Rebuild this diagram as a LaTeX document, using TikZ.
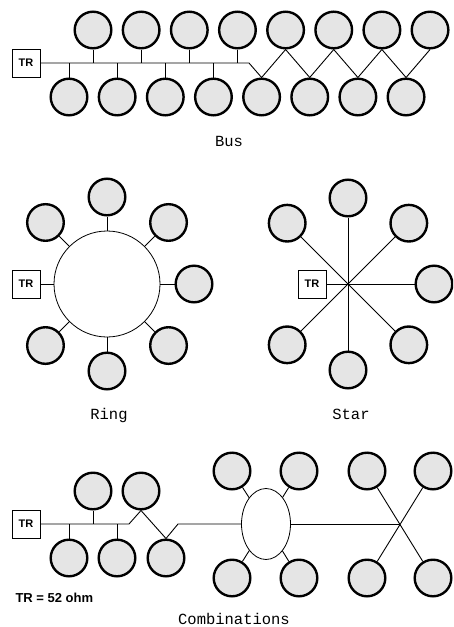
\documentclass[tikz,border=0pt]{standalone}
\usepackage{fontspec}
\setmonofont{Liberation Mono}
\setsansfont{Liberation Sans}
\usepackage{tikz}
\usetikzlibrary{calc,shapes.geometric}
\definecolor{stationgray}{gray}{0.9}

\begin{document}
\begin{tikzpicture}[
  x=1pt, y=-1pt,
  station/.style={circle, draw=black, line width=2.4pt, fill=stationgray, inner sep=0pt, minimum size=36.6pt},
  term/.style={rectangle, draw=black, line width=0.8pt, fill=white, inner sep=0pt, minimum size=28pt, font=\sffamily\bfseries\fontsize{11}{13}\selectfont},
  medium/.style={draw=black, line width=0.8pt, fill=white, inner sep=0pt},
  wire/.style={line width=0.9pt},
  caption/.style={anchor=base, font=\ttfamily\fontsize{15.5}{18}\selectfont}
]
\useasboundingbox (0,0) rectangle (453,627);
\clip (0,0) rectangle (453,627);

\node[term] (trb) at (26,63) {TR};
\foreach \i in {1,...,8} {
  \node[station] (t\i) at ({93+48.15*(\i-1)},30) {};
  \node[station] (b\i) at ({69+48.15*(\i-1)},97) {};
}
\coordinate (bend) at (249,63);
\draw[wire] (trb) -- (bend) -- (b5.north) -- (t5.south) -- (b6.north) -- (t6.south) -- (b7.north) -- (t7.south) -- (b8.north) -- (t8.south);
\foreach \i in {1,...,4} {
  \draw[wire] (t\i.south) -- (t\i.south |- bend);
  \draw[wire] (b\i.north) -- (b\i.north |- bend);
}
\node[caption] (buslbl) at (229,146.5) {Bus};

\node[medium, circle, minimum size=106pt] (ring) at (107,284) {};
\node[term] (trr) at (26,284) {TR};
\draw[wire] (trr) -- (ring);
\foreach \a/\n in {90/1,45/2,0/3,-45/4,-90/5,-135/6,135/7} {
  \node[station] (r\n) at ($(ring)+(\a:87pt)$) {};
  \draw[wire] (ring.\a) -- (r\n);
}
\node[caption] (ringlbl) at (109,419) {Ring};

\coordinate (hub) at (348,284);
\node[term] (trs) at (312,284) {TR};
\draw[wire] (trs) -- (hub);
\foreach \a/\n in {90/1,45/2,0/3,-45/4,-90/5,-135/6,135/7} {
  \node[station] (s\n) at ($(hub)+(\a:86pt)$) {};
  \draw[wire] (hub) -- (s\n);
}
\node[caption] (starlbl) at (351,419) {Star};

\node[term] (trc) at (26,524) {TR};
\node[station] (ct1) at (93,491) {};
\node[station] (ct2) at (141,491) {};
\node[station] (cb1) at (69,558) {};
\node[station] (cb2) at (117,558) {};
\node[station] (cb3) at (166,558) {};
\coordinate (cbend) at (129,524);
\coordinate (cjoin) at (178,524);
\node[medium, ellipse, minimum width=49pt, minimum height=71pt] (hubell) at (266,524) {};
\draw[wire] (trc) -- (cbend) -- (ct2.south) -- (cb3.north) -- (cjoin) -- (hubell);
\draw[wire] (ct1.south) -- (ct1.south |- cbend);
\draw[wire] (cb1.north) -- (cb1.north |- cbend);
\draw[wire] (cb2.north) -- (cb2.north |- cbend);

\node[station] (e1) at (232,471) {};
\node[station] (e2) at (299,471) {};
\node[station] (e3) at (232,578) {};
\node[station] (e4) at (299,578) {};
\foreach \n in {1,...,4}
  \draw[wire] (hubell) -- (e\n);

\coordinate (cross) at (400,524);
\node[station] (x1) at (367,471) {};
\node[station] (x2) at (433,471) {};
\node[station] (x3) at (367,578) {};
\node[station] (x4) at (433,578) {};
\draw[wire] (hubell) -- (cross);
\draw[wire] (x1) -- (x4);
\draw[wire] (x2) -- (x3);

\node[anchor=base west, font=\sffamily\bfseries\fontsize{13}{15}\selectfont] (trnote) at (12,602.5) {TR = 52 ohm};
\node[caption] (comblbl) at (234,624.5) {Combinations};
\end{tikzpicture}
\end{document}
